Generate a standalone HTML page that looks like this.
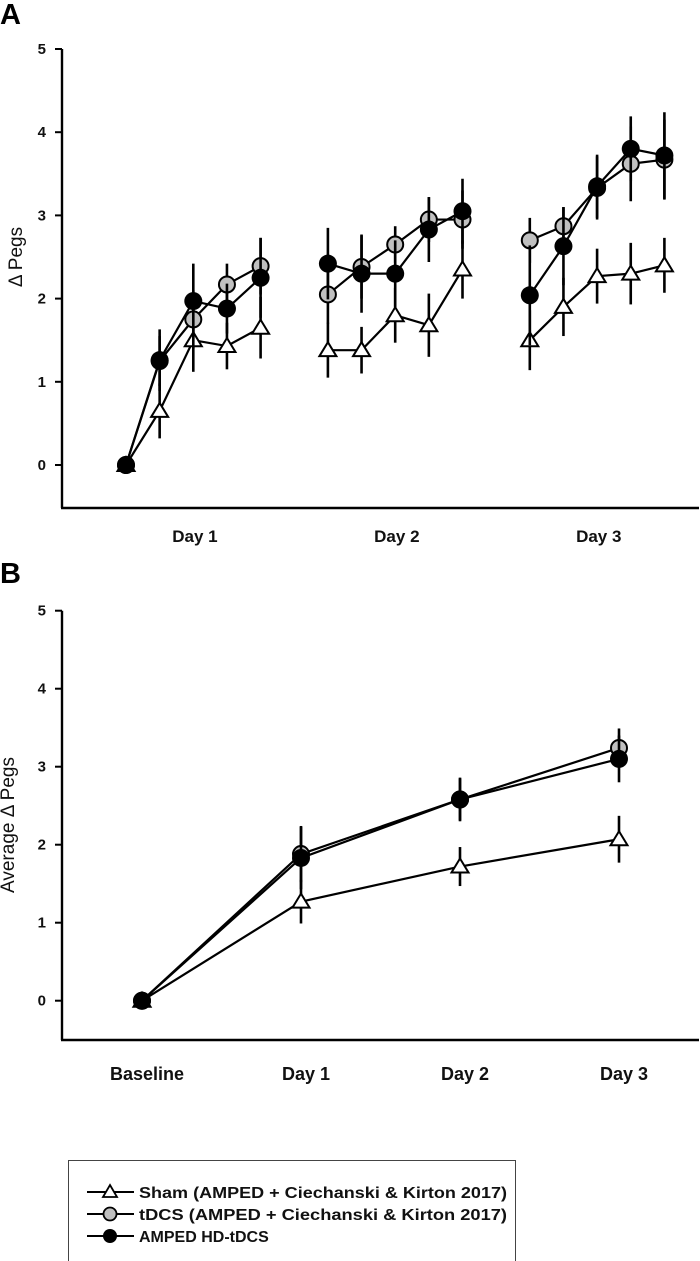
<!DOCTYPE html>
<html><head><meta charset="utf-8"><style>
html,body{margin:0;padding:0;background:#fff;}
svg{display:block;font-family:"Liberation Sans",Arial,sans-serif;}
</style></head><body>
<svg id="fig" width="700" height="1261" viewBox="0 0 700 1261">
<text x="0" y="24" font-size="29" font-weight="bold">A</text>
<text x="0" y="583" font-size="29" font-weight="bold">B</text>
<g id="ga"></g>
<g id="gb"></g>
<g>
<rect x="68.5" y="1160.5" width="447" height="105" fill="#fff" stroke="#444" stroke-width="1"/>
<g>
<line x1="87" y1="1192" x2="134" y2="1192" stroke="#000" stroke-width="2"/>
<polygon points="110,1185 117,1197 103,1197" fill="#fff" stroke="#000" stroke-width="1.8"/>
<text x="139" y="1198" font-size="16" font-weight="bold" fill="#111" textLength="368" lengthAdjust="spacingAndGlyphs">Sham (AMPED + Ciechanski &amp; Kirton 2017)</text></g>
<g>
<line x1="87" y1="1214" x2="134" y2="1214" stroke="#000" stroke-width="2"/>
<circle cx="110" cy="1214" r="6.5" fill="#c0c0c0" stroke="#000" stroke-width="1.8"/>
<text x="139" y="1220" font-size="16" font-weight="bold" fill="#111" textLength="368" lengthAdjust="spacingAndGlyphs">tDCS (AMPED + Ciechanski &amp; Kirton 2017)</text></g>
<g>
<line x1="87" y1="1236" x2="134" y2="1236" stroke="#000" stroke-width="2"/>
<circle cx="110" cy="1236" r="7" fill="#000"/>
<text x="139" y="1242" font-size="16" font-weight="bold" fill="#111">AMPED HD-tDCS</text></g>
</g>
</svg>
<script>
// Panel A data (index positions with gaps between days)
const aIdx = [[0,1,2,3,4],[6,7,8,9,10],[12,13,14,15,16]];
const aShamVals = [[0,0.65,1.5,1.43,1.65],[1.38,1.38,1.8,1.68,2.35],[1.5,1.9,2.27,2.3,2.4]];
const aShamErr  = [[0,0.33,0.38,0.28,0.37],[0.33,0.28,0.33,0.38,0.35],[0.36,0.35,0.33,0.37,0.33]];
const aTdcsVals = [[0,1.25,1.75,2.17,2.39],[2.05,2.38,2.65,2.95,2.95],[2.7,2.87,3.33,3.62,3.67]];
const aTdcsErr  = [[0,0.3,0.35,0.25,0.34],[0.35,0.38,0.22,0.27,0.35],[0.27,0.23,0.38,0.45,0.48]];
const aHdVals   = [[0,1.26,1.97,1.88,2.25],[2.42,2.3,2.3,2.83,3.05],[2.04,2.63,3.35,3.8,3.72]];
const aHdErr    = [[0,0.37,0.45,0.3,0.48],[0.43,0.47,0.4,0.39,0.39],[0.6,0.47,0.38,0.39,0.52]];
const aDayLabels = ["Day 1","Day 2","Day 3"];
const aDayLabelIdx = [3,9,15];
// Panel B data
const bCategories = ["Baseline","Day 1","Day 2","Day 3"];
const bShamVals = [0,1.27,1.72,2.07];
const bShamErr  = [0,0.28,0.25,0.3];
const bTdcsVals = [0,1.88,2.58,3.24];
const bTdcsErr  = [0,0.36,0.27,0.25];
const bHdVals   = [0,1.83,2.58,3.1];
const bHdErr    = [0,0.4,0.28,0.3];
const yTicks = [0,1,2,3,4,5];

const NS="http://www.w3.org/2000/svg";
function mk(tag,attrs,parent){const e=document.createElementNS(NS,tag);for(const k in attrs)e.setAttribute(k,attrs[k]);parent.appendChild(e);return e;}

function axes(g,x0,x1,yAt,yBottom,titleText,titleX,titleY){
  const ax=mk('line',{x1:x0,y1:yAt(5)-0,x2:x0,y2:yBottom,stroke:'#000','stroke-width':2.4},g);
  
  
  const bx=mk('line',{x1:x0-1,y1:yBottom,x2:x1,y2:yBottom,stroke:'#000','stroke-width':2.4},g);
  
  
  yTicks.forEach(t=>{
    const tk=mk('line',{x1:x0-7,y1:yAt(t),x2:x0,y2:yAt(t),stroke:'#000','stroke-width':2},g);
    
    
    const tl=mk('text',{x:x0-16,y:yAt(t)+5,'font-size':15,'font-weight':'bold','text-anchor':'end',fill:'#111'},g);
    tl.textContent=t;
    
    
  });
  const tt=mk('text',{x:titleX,y:titleY,'font-size':19,'text-anchor':'middle',fill:'#111',transform:`rotate(-90 ${titleX} ${titleY})`},g);
  tt.textContent=titleText;
  
  
}

function marker(g,kind,x,y,r){
  let m;
  if(kind==='tri'){m=mk('polygon',{points:`${x},${y-8} ${x+8.5},${y+6} ${x-8.5},${y+6}`,fill:'#fff',stroke:'#000','stroke-width':2},g);}
  else if(kind==='gray'){m=mk('circle',{cx:x,cy:y,r:r,fill:'#c0c0c0',stroke:'#000','stroke-width':2},g);}
  else {m=mk('circle',{cx:x,cy:y,r:r+1,fill:'#000'},g);}
  
  
}

function series(g,xs,vals,errs,yAt,kind,r,name){
  const sg=mk('g',{},g);
  
  
  xs.forEach((x,i)=>{ if(errs[i]>0){
    const eb=mk('line',{x1:x,y1:yAt(vals[i]+errs[i]),x2:x,y2:yAt(vals[i]-errs[i]),stroke:'#000','stroke-width':2.6},sg);
    
    
  }});
  const pts=xs.map((x,i)=>x+','+yAt(vals[i])).join(' ');
  const pl=mk('polyline',{points:pts,fill:'none',stroke:'#000','stroke-width':2.2},sg);
  
  
  xs.forEach((x,i)=>marker(sg,kind,x,yAt(vals[i]),r));
}

// Panel A
(function(){
  const g=document.getElementById('ga');
  const yAt=v=>465-83.2*v;
  const xAt=i=>126+33.65*i;
  axes(g,62,699,yAt,508,'\u0394 Pegs',22,257);
  aDayLabels.forEach((d,k)=>{
    const t=mk('text',{x:xAt(aDayLabelIdx[k])-32,y:542,'font-size':17,'font-weight':'bold','text-anchor':'middle',fill:'#111'},g);
    t.textContent=d;
    
    
  });
  for(let d=0;d<3;d++){
    const xs=aIdx[d].map(xAt);
    series(g,xs,aShamVals[d],aShamErr[d],yAt,'tri',8,'series-sham-day'+(d+1));
    series(g,xs,aTdcsVals[d],aTdcsErr[d],yAt,'gray',8,'series-tdcs-day'+(d+1));
    series(g,xs,aHdVals[d],aHdErr[d],yAt,'black',8,'series-hd-day'+(d+1));
  }
})();

// Panel B
(function(){
  const g=document.getElementById('gb');
  const yAt=v=>1000.7-78*v;
  const xAt=i=>142+159*i;
  axes(g,62,699,yAt,1040,'Average \u0394 Pegs',14,825);
  bCategories.forEach((c,i)=>{
    const t=mk('text',{x:xAt(i)+5,y:1080,'font-size':18,'font-weight':'bold','text-anchor':'middle',fill:'#111'},g);
    t.textContent=c;
    
    
  });
  const xs=bCategories.map((c,i)=>xAt(i));
  series(g,xs,bShamVals,bShamErr,yAt,'tri',8,'series-sham');
  series(g,xs,bTdcsVals,bTdcsErr,yAt,'gray',8,'series-tdcs');
  series(g,xs,bHdVals,bHdErr,yAt,'black',8,'series-hd-tdcs');
})();
</script>
</body></html>
